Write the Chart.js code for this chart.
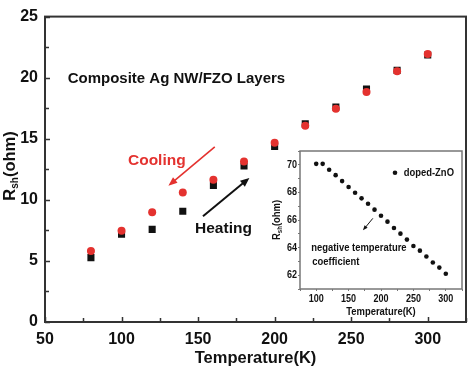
<!DOCTYPE html>
<html>
<head>
<meta charset="utf-8">
<script src="https://cdn.jsdelivr.net/npm/chart.js@4/dist/chart.umd.min.js"></script>
<style>
  body { margin: 0; background: #fff; }
  #wrap { position: relative; width: 474px; height: 368px; }
  #main { position: absolute; left: 0; top: 0; }
  #inset { position: absolute; left: 266px; top: 145px; }
</style>
</head>
<body>
<div id="wrap">
  <canvas id="main" width="474" height="368"></canvas>
  <canvas id="inset" width="204" height="175"></canvas>
</div>
<script>
// main chart data
const temps = [80, 100, 120, 140, 160, 180, 200, 220, 240, 260, 280, 300];
const heating = [5.27, 7.18, 7.58, 9.07, 11.17, 12.77, 14.36, 16.22, 17.6, 19.07, 20.6, 21.86];
const cooling = [5.82, 7.47, 8.99, 10.61, 11.65, 13.14, 14.68, 16.06, 17.45, 18.83, 20.53, 21.94];
const xLabels = [50, 100, 150, 200, 250, 300];
const yLabels = [0, 5, 10, 15, 20, 25];

// inset data
const insetTemps = [100, 110, 120, 130, 140, 150, 160, 170, 180, 190, 200, 210, 220, 230, 240, 250, 260, 270, 280, 290, 300];
const insetR = [70.07, 70.07, 69.64, 69.25, 68.82, 68.39, 67.98, 67.57, 67.18, 66.75, 66.31, 65.88, 65.42, 65.01, 64.58, 64.12, 63.78, 63.35, 62.92, 62.55, 62.1];
const insetXLabels = [100, 150, 200, 250, 300];
const insetYLabels = [62, 64, 66, 68, 70];

const RED = "#e4322f";
const FONT = "'Liberation Sans', Arial, sans-serif";
const SQUEEZE = 0.82; // the inset uses a narrow face, none is installed

function pts(xs, ys) {
  return xs.map((x, i) => ({ x: x, y: ys[i] }));
}

function arrow(ctx, x1, y1, x2, y2, color, lw, head, hw) {
  const a = Math.atan2(y2 - y1, x2 - x1);
  ctx.save();
  ctx.strokeStyle = color;
  ctx.fillStyle = color;
  ctx.lineWidth = lw;
  ctx.beginPath();
  ctx.moveTo(x1, y1);
  ctx.lineTo(x2 - Math.cos(a) * head * 0.8, y2 - Math.sin(a) * head * 0.8);
  ctx.stroke();
  ctx.translate(x2, y2);
  ctx.rotate(a);
  ctx.beginPath();
  ctx.moveTo(0, 0);
  ctx.lineTo(-head, hw);
  ctx.lineTo(-head, -hw);
  ctx.closePath();
  ctx.fill();
  ctx.restore();
}

// narrow text: draw with a horizontal squeeze
function narrowText(ctx, text, x, y, size, align, baseline) {
  ctx.save();
  ctx.font = "bold " + size + "px " + FONT;
  ctx.textAlign = align || "left";
  ctx.textBaseline = baseline || "middle";
  ctx.translate(x, y);
  ctx.scale(SQUEEZE, 1);
  ctx.fillText(text, 0, 0);
  ctx.restore();
}

// draws inward ticks, the frame and the annotations of the main chart
const mainDecor = {
  id: "mainDecor",
  afterDraw(chart) {
    const ctx = chart.ctx;
    const a = chart.chartArea;
    const xs = chart.scales.x, ys = chart.scales.y;
    ctx.save();
    ctx.strokeStyle = "#333";
    ctx.lineWidth = 2;
    ctx.strokeRect(a.left, a.top, a.right - a.left, a.bottom - a.top);
    ctx.lineWidth = 1.5;
    ctx.beginPath();
    xs.ticks.forEach(t => {
      const px = Math.round(xs.getPixelForValue(t.value)) + 0.5;
      const len = xLabels.includes(t.value) ? 5 : 4;
      ctx.moveTo(px, a.bottom);
      ctx.lineTo(px, a.bottom - len);
    });
    ys.ticks.forEach(t => {
      const py = Math.round(ys.getPixelForValue(t.value)) + 0.5;
      const len = yLabels.includes(t.value) ? 5 : 4;
      ctx.moveTo(a.left, py);
      ctx.lineTo(a.left + len, py);
    });
    ctx.stroke();

    // y axis title with subscript
    ctx.fillStyle = "#111";
    ctx.translate(10, 166);
    ctx.rotate(-Math.PI / 2);
    ctx.textBaseline = "middle";
    ctx.font = "bold 16.5px " + FONT;
    const wR = ctx.measureText("R").width;
    const wO = ctx.measureText("(ohm)").width;
    ctx.font = "bold 10px " + FONT;
    const wS = ctx.measureText("sh").width;
    const x0 = -(wR + wS + wO) / 2;
    ctx.font = "bold 16.5px " + FONT;
    ctx.fillText("R", x0, 0);
    ctx.font = "bold 10px " + FONT;
    ctx.fillText("sh", x0 + wR, 5);
    ctx.font = "bold 16.5px " + FONT;
    ctx.fillText("(ohm)", x0 + wR + wS, 0);
    ctx.restore();

    ctx.save();
    ctx.textBaseline = "middle";
    ctx.font = "bold 15px " + FONT;
    ctx.fillStyle = "#111";
    ctx.fillText("Composite Ag NW/FZO Layers", xs.getPixelForValue(64.8), ys.getPixelForValue(19.9));
    ctx.font = "bold 15.5px " + FONT;
    ctx.fillStyle = RED;
    ctx.fillText("Cooling", xs.getPixelForValue(104.2), ys.getPixelForValue(13.2));
    ctx.fillStyle = "#111";
    ctx.fillText("Heating", xs.getPixelForValue(148), ys.getPixelForValue(7.64));
    ctx.restore();

    arrow(ctx, xs.getPixelForValue(160.9), ys.getPixelForValue(14.34),
      xs.getPixelForValue(130.6), ys.getPixelForValue(11.15), RED, 1.6, 9, 3.5);
    arrow(ctx, xs.getPixelForValue(153.2), ys.getPixelForValue(8.66),
      xs.getPixelForValue(183.5), ys.getPixelForValue(11.79), "#111", 2, 9, 3.8);
  }
};

new Chart(document.getElementById("main").getContext("2d"), {
  type: "scatter",
  data: {
    datasets: [
      {
        label: "Cooling",
        data: pts(temps, cooling),
        pointStyle: "circle",
        pointRadius: 4,
        backgroundColor: RED,
        borderColor: RED,
        borderWidth: 0,
      },
      {
        label: "Heating",
        data: pts(temps, heating),
        pointStyle: "rect",
        pointRadius: 5,
        backgroundColor: "#111",
        borderColor: "#111",
        borderWidth: 0,
      },
    ],
  },
  options: {
    responsive: false,
    animation: false,
    devicePixelRatio: 1,
    layout: { padding: { top: 9, right: 3, left: 0, bottom: 0 } },
    plugins: { legend: { display: false }, tooltip: { enabled: false } },
    scales: {
      x: {
        type: "linear",
        min: 50,
        max: 325,
        grid: { display: true, drawOnChartArea: false, drawTicks: false },
        border: { display: false },
        ticks: {
          stepSize: 25,
          padding: 8,
          maxRotation: 0,
          autoSkip: false,
          color: "#111",
          font: { family: FONT, size: 16, weight: "bold" },
          callback: v => (xLabels.includes(v) ? String(v) : ""),
        },
        title: {
          display: true,
          text: "Temperature(K)",
          color: "#111",
          padding: 0,
          font: { family: FONT, size: 16.5, weight: "bold" },
        },
        afterFit: s => { s.height = 46; },
      },
      y: {
        min: 0,
        max: 25,
        grid: { display: true, drawOnChartArea: false, drawTicks: false },
        border: { display: false },
        ticks: {
          stepSize: 2.5,
          padding: 7,
          autoSkip: false,
          color: "#111",
          font: { family: FONT, size: 16, weight: "bold" },
          callback: v => (yLabels.includes(v) ? String(v) : ""),
        },
        afterFit: s => { s.width = 45; },
      },
    },
  },
  plugins: [mainDecor],
});

// inset frame, labels, title and notes
const insetDecor = {
  id: "insetDecor",
  beforeDraw(chart) {
    const a = chart.chartArea;
    chart.ctx.save();
    chart.ctx.fillStyle = "#fff";
    chart.ctx.fillRect(a.left, a.top, a.right - a.left, a.bottom - a.top);
    chart.ctx.restore();
  },
  afterDraw(chart) {
    const ctx = chart.ctx;
    const a = chart.chartArea;
    const xs = chart.scales.x, ys = chart.scales.y;
    ctx.save();
    ctx.strokeStyle = "#777";
    ctx.lineWidth = 1.5;
    ctx.strokeRect(a.left, a.top, a.right - a.left, a.bottom - a.top);
    ctx.restore();

    ctx.save();
    ctx.fillStyle = "#111";
    xs.ticks.forEach(t => {
      if (insetXLabels.includes(t.value)) {
        narrowText(ctx, String(t.value), xs.getPixelForValue(t.value), a.bottom + 4, 11, "center", "top");
      }
    });
    ys.ticks.forEach(t => {
      if (insetYLabels.includes(t.value)) {
        narrowText(ctx, String(t.value), a.left - 3, ys.getPixelForValue(t.value), 11, "right", "middle");
      }
    });
    narrowText(ctx, "Temperature(K)", (a.left + a.right) / 2, 167, 11.5, "center", "middle");

    // rotated y title with subscript
    ctx.translate(11, (a.top + a.bottom) / 2);
    ctx.rotate(-Math.PI / 2);
    ctx.scale(SQUEEZE, 1);
    ctx.textBaseline = "middle";
    ctx.font = "bold 11.5px " + FONT;
    const wR = ctx.measureText("R").width;
    const wO = ctx.measureText("(ohm)").width;
    ctx.font = "bold 7.5px " + FONT;
    const wS = ctx.measureText("sh").width;
    const x0 = -(wR + wS + wO) / 2;
    ctx.font = "bold 11.5px " + FONT;
    ctx.fillText("R", x0, 0);
    ctx.font = "bold 7.5px " + FONT;
    ctx.fillText("sh", x0 + wR, 3);
    ctx.font = "bold 11.5px " + FONT;
    ctx.fillText("(ohm)", x0 + wR + wS, 0);
    ctx.restore();

    ctx.save();
    ctx.fillStyle = "#111";
    ctx.beginPath();
    ctx.arc(xs.getPixelForValue(221.6), ys.getPixelForValue(69.42), 2.3, 0, Math.PI * 2);
    ctx.fill();
    narrowText(ctx, "doped-ZnO", xs.getPixelForValue(235), ys.getPixelForValue(69.42), 11.5);
    narrowText(ctx, "negative temperature", xs.getPixelForValue(92.3), ys.getPixelForValue(63.95), 11.5);
    narrowText(ctx, "coefficient", xs.getPixelForValue(93.9), ys.getPixelForValue(63.0), 11.5);
    ctx.restore();

    arrow(ctx, xs.getPixelForValue(187.4), ys.getPixelForValue(66.12),
      xs.getPixelForValue(172.1), ys.getPixelForValue(65.25), "#111", 1, 5, 2);
  }
};

new Chart(document.getElementById("inset").getContext("2d"), {
  type: "scatter",
  data: {
    datasets: [
      {
        label: "doped-ZnO",
        data: pts(insetTemps, insetR),
        pointStyle: "circle",
        pointRadius: 2.3,
        backgroundColor: "#111",
        borderWidth: 0,
      },
    ],
  },
  options: {
    responsive: false,
    animation: false,
    devicePixelRatio: 1,
    layout: { padding: { top: 6, right: 8, left: 0, bottom: 0 } },
    plugins: { legend: { display: false }, tooltip: { enabled: false } },
    scales: {
      x: {
        type: "linear",
        min: 75,
        max: 325,
        grid: { display: true, drawOnChartArea: false, drawTicks: true, tickLength: 2, color: "#777" },
        border: { display: false },
        ticks: { stepSize: 25, display: false },
        afterFit: s => { s.height = 31; },
      },
      y: {
        min: 61,
        max: 71,
        grid: { display: true, drawOnChartArea: false, drawTicks: true, tickLength: 2, color: "#777" },
        border: { display: false },
        ticks: { stepSize: 1, display: false },
        afterFit: s => { s.width = 34; },
      },
    },
  },
  plugins: [insetDecor],
});
</script>
</body>
</html>
